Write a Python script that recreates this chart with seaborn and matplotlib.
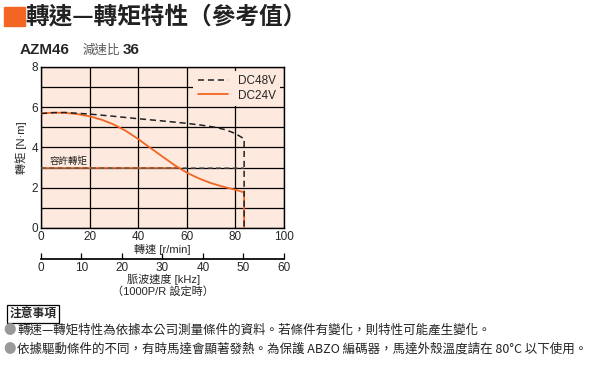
import matplotlib.pyplot as plt
import pandas as pd
import seaborn as sns
from matplotlib.patches import Rectangle

# ---------------------------------------------------------------------------
# Data
# ---------------------------------------------------------------------------
speed_48v = [0, 5, 10, 20, 30, 40, 50, 60, 66, 72, 76, 79, 81, 83.6, 83.6]
torque_48v = [5.69, 5.73, 5.74, 5.66, 5.55, 5.43, 5.32, 5.2, 5.11, 5.0, 4.88, 4.74, 4.62, 4.43, 0]

speed_24v = [0, 5, 10, 15, 20, 25, 30, 35, 40, 45, 50, 55, 60, 65, 70, 75, 80, 83.6, 83.6]
torque_24v = [5.69, 5.73, 5.72, 5.66, 5.55, 5.38, 5.14, 4.82, 4.42, 3.98, 3.55, 3.12, 2.75, 2.46, 2.23, 2.05, 1.9, 1.77, 0]

allowable_torque = 3.0
max_speed = 83.6

speed_ticks = [0, 20, 40, 60, 80, 100]
torque_ticks = [0, 2, 4, 6, 8]
pulse_ticks = [0, 10, 20, 30, 40, 50, 60]

title = "轉速—轉矩特性（參考值）"
model_name = "AZM46"
ratio_label = "減速比"
ratio_value = "36"
notes_header = "注意事項"
notes = [
    "轉速—轉矩特性為依據本公司測量條件的資料。若條件有變化，則特性可能產生變化。",
    "依據驅動條件的不同，有時馬達會顯著發熱。為保護 ABZO 編碼器，馬達外殼溫度請在 80°C 以下使用。",
]

ORANGE = "#f26522"
PEACH = "#fde9de"
CJK = ["Noto Sans CJK TC", "DejaVu Sans"]
LATIN = ["Liberation Sans", "DejaVu Sans"]
LATIN_CJK = ["Liberation Sans", "Noto Sans CJK TC", "DejaVu Sans"]

sns.set_theme(style="white")
plt.rcParams["font.family"] = CJK

df48 = pd.DataFrame({"speed": speed_48v, "torque": torque_48v})
df24 = pd.DataFrame({"speed": speed_24v, "torque": torque_24v})

fig = plt.figure(figsize=(6, 3.8), dpi=100)
ax = fig.add_axes([0.0683, 0.4, 0.405, 0.4237])
ax.set_facecolor(PEACH)

# allowable torque line (orange underlay where it sits under the 24V curve)
ax.plot([0, 56], [allowable_torque] * 2, color=ORANGE, lw=1.2, zorder=2)
ax.plot([0, max_speed], [allowable_torque] * 2, color="#555555", lw=1.2,
        ls=(0, (3, 2)), zorder=3, alpha=0.8)

sns.lineplot(data=df24, x="speed", y="torque", sort=False, estimator=None,
             color=ORANGE, lw=1.3, ax=ax, label="DC24V", zorder=4)
sns.lineplot(data=df48, x="speed", y="torque", sort=False, estimator=None,
             color="#222222", lw=1.1, ls=(0, (4, 2.5)), ax=ax, label="DC48V", zorder=5)

ax.text(3.4, 3.2, "容許轉矩", fontsize=6.8, color="#222222")

ax.set_xlim(0, 100)
ax.set_ylim(0, 8)
ax.set_xticks(speed_ticks)
ax.set_yticks(torque_ticks)
ax.set_yticks(range(0, 9), minor=True)
ax.grid(True, which="both", color="black", lw=0.9)
ax.tick_params(length=0, labelsize=8.5, pad=2)
for lbl in ax.get_xticklabels() + ax.get_yticklabels():
    lbl.set_fontfamily(LATIN)
for sp in ax.spines.values():
    sp.set_color("black")
    sp.set_linewidth(1.0)
ax.set_xlabel("轉速 [r/min]", fontsize=8, labelpad=1, family=LATIN_CJK)
ax.set_ylabel("轉矩 [N·m]", fontsize=8, labelpad=3, family=LATIN_CJK)

handles, labels = ax.get_legend_handles_labels()
ax.legend(handles[::-1], labels[::-1], loc="upper right",
          frameon=True, facecolor=PEACH, edgecolor="none", framealpha=1,
          handlelength=2.6, borderaxespad=0.3, labelspacing=0.2,
          prop={"family": LATIN, "size": 8.5})

# secondary pulse-speed scale
ax2 = fig.add_axes([0.0683, 0.318, 0.405, 0.001])
ax2.set_xlim(0, 60)
ax2.set_xticks(pulse_ticks)
ax2.set_yticks([])
for name in ("top", "left", "right"):
    ax2.spines[name].set_visible(False)
ax2.spines["bottom"].set_color("black")
ax2.tick_params(axis="x", direction="in", length=4, width=0.9, labelsize=8.5,
                pad=2, color="black", bottom=True)
for lbl in ax2.get_xticklabels():
    lbl.set_fontfamily(LATIN)
ax2.patch.set_alpha(0)
fig.text(0.272, 0.265, "脈波速度 [kHz]", ha="center", va="center", fontsize=8,
         family=LATIN_CJK)
fig.text(0.272, 0.234, "（1000P/R 設定時）", ha="center", va="center", fontsize=8,
         family=LATIN_CJK)

# header
fig.patches.append(Rectangle((0.007, 0.932), 0.035, 0.05, transform=fig.transFigure,
                             color=ORANGE))
fig.text(0.043, 0.956, title, fontsize=17, fontweight="bold", va="center", color="#222222")
fig.text(0.033, 0.868, model_name, fontsize=11, fontweight="bold", va="center",
         family=LATIN)
fig.text(0.137, 0.868, ratio_label, fontsize=9, va="center", color="#555555")
fig.text(0.205, 0.868, ratio_value, fontsize=11, fontweight="bold", va="center",
         family=LATIN)

# notes
fig.text(0.016, 0.173, notes_header, fontsize=8.5, fontweight="bold", va="center",
         bbox=dict(boxstyle="square,pad=0.2", fc="white", ec="black", lw=0.9))
for i, line in enumerate(notes):
    y = 0.131 - i * 0.05
    fig.text(0.006, y, "●", fontsize=9, va="center", color="#999999")
    fig.text(0.029, y, line, fontsize=9, va="center", color="#222222")

fig.savefig("out.png", dpi=100)
